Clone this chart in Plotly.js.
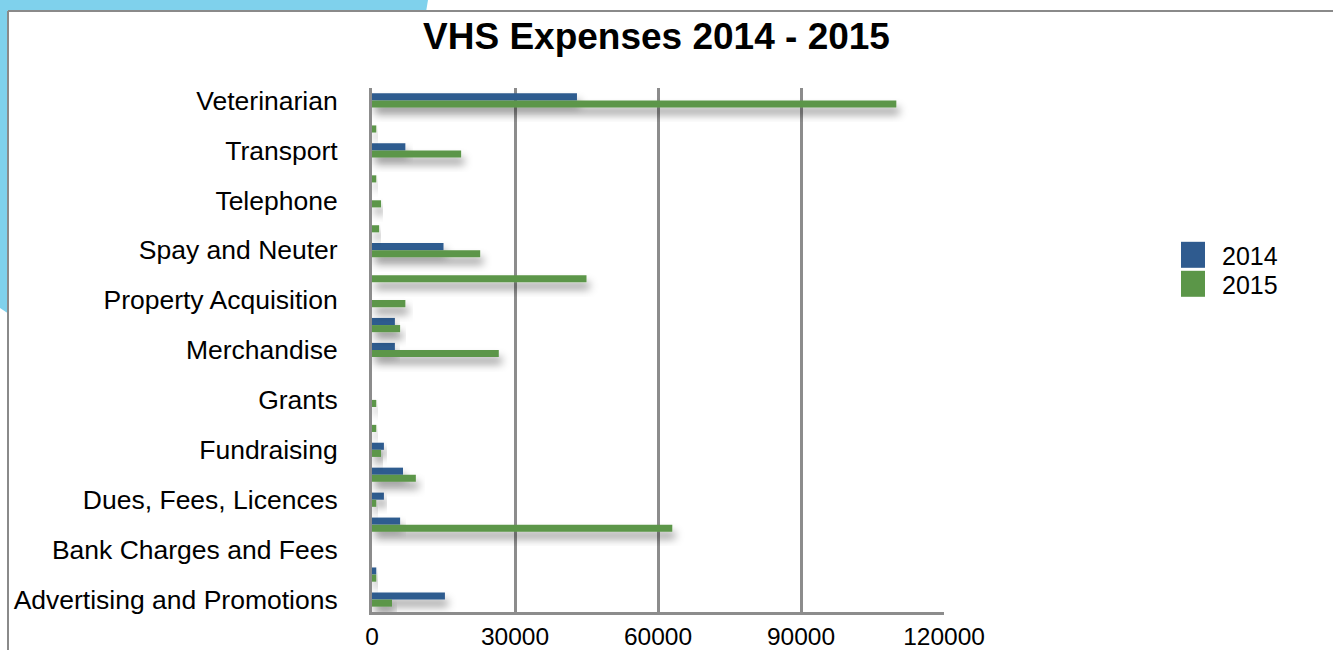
<!DOCTYPE html>
<html>
<head>
<meta charset="utf-8">
<script src="https://cdn.plot.ly/plotly-3.0.1.min.js"></script>
<style>
  html, body { margin: 0; padding: 0; background: #ffffff; }
  #wrap { position: relative; width: 1333px; height: 650px; overflow: hidden; }
  #bg { position: absolute; left: 0; top: 0; }
  #chart { position: absolute; left: 0; top: 0; width: 1333px; height: 650px; }
</style>
</head>
<body>
<div id="wrap">
  <svg id="bg" width="1333" height="650">
    <polygon points="0,0 428,0 426,12 9,12 9,314 0,308" fill="#7fd1ec"/>
    <rect x="9" y="12" width="1324" height="638" fill="#ffffff"/>
    <line x1="8" y1="11" x2="1333" y2="11" stroke="#8a8a8a" stroke-width="2"/>
    <line x1="8" y1="11" x2="8" y2="650" stroke="#8a8a8a" stroke-width="2"/>
  </svg>
  <div id="chart"></div>
</div>
<script>
// Rows from top to bottom; empty strings are rows without a printed label
const categories = [
  "Veterinarian", "", "Transport", "", "Telephone", "", "Spay and Neuter", "",
  "Property Acquisition", "", "Merchandise", "", "Grants", "", "Fundraising", "",
  "Dues, Fees, Licences", "", "Bank Charges and Fees", "", "Advertising and Promotions"
];
const seriesNames = ["2014", "2015"];
const values2014 = [43000, null, 7000, null, null, null, 15000, null, null, 4800, 4800, null,
  null, null, 2500, 6500, 2500, 5900, null, 900, 15300];
const values2015 = [110000, 900, 18700, 900, 1900, 1500, 22700, 45000, 7000, 5900, 26600, null,
  900, 900, 1900, 9200, 900, 63000, null, 900, 4200];
const xTicks = [0, 30000, 60000, 90000, 120000];

const rowPos = categories.map((_, i) => i);
const colors = ["#2f5b8f", "#5b9648"];

const traces = [values2014, values2015].map((vals, k) => ({
  type: "bar",
  orientation: "h",
  name: seriesNames[k],
  x: vals,
  y: rowPos,
  marker: { color: colors[k], line: { width: 0 } },
  hoverinfo: "x+name"
}));

const layout = {
  width: 1333, height: 650,
  paper_bgcolor: "rgba(0,0,0,0)",
  plot_bgcolor: "rgba(0,0,0,0)",
  margin: { l: 372, r: 389, t: 88, b: 38 },
  barmode: "group",
  bargap: 0.43,
  bargroupgap: 0,
  title: {
    text: "<b>VHS Expenses 2014 - 2015</b>",
    font: { family: "Liberation Sans, Arial, sans-serif", size: 37, color: "#000000" },
    xref: "container", yref: "container",
    x: 0.4925, xanchor: "center",
    y: 0.945, yanchor: "middle"
  },
  xaxis: {
    range: [0, 120000],
    tickvals: xTicks,
    ticktext: xTicks.map(String),
    showgrid: true, gridcolor: "#8c8c8c", gridwidth: 3,
    showline: true, linecolor: "#8c8c8c", linewidth: 3,
    zeroline: false,
    ticks: "",
    ticklabelstandoff: 1,
    tickfont: { family: "Liberation Sans, Arial, sans-serif", size: 24.5, color: "#000000" },
    automargin: false,
    fixedrange: true
  },
  yaxis: {
    range: [20.5, -0.5],
    tickvals: rowPos,
    ticktext: categories,
    showgrid: false,
    showline: true, linecolor: "#8c8c8c", linewidth: 3,
    zeroline: false,
    ticks: "",
    ticklabelstandoff: 26,
    tickfont: { family: "Liberation Sans, Arial, sans-serif", size: 26.5, color: "#000000" },
    automargin: false,
    fixedrange: true
  },
  showlegend: true,
  legend: {
    xref: "container", yref: "container",
    x: 0.8732, xanchor: "left",
    y: 0.643, yanchor: "top",
    bgcolor: "rgba(0,0,0,0)",
    font: { family: "Liberation Sans, Arial, sans-serif", size: 25, color: "#000000" },
    tracegroupgap: 0,
    itemwidth: 48
  }
};

Plotly.newPlot("chart", traces, layout, { displayModeBar: false, staticPlot: true }).then(gd => {
  const svg = gd.querySelector(".main-svg");
  const ns = "http://www.w3.org/2000/svg";
  let defs = svg.querySelector("defs");
  if (!defs) { defs = document.createElementNS(ns, "defs"); svg.insertBefore(defs, svg.firstChild); }
  const f = document.createElementNS(ns, "filter");
  f.setAttribute("id", "barShadow");
  f.setAttribute("x", "-10%"); f.setAttribute("y", "-100%");
  f.setAttribute("width", "130%"); f.setAttribute("height", "400%");
  const ds = document.createElementNS(ns, "feDropShadow");
  ds.setAttribute("dx", "3"); ds.setAttribute("dy", "7");
  ds.setAttribute("stdDeviation", "4");
  ds.setAttribute("flood-color", "#000000");
  ds.setAttribute("flood-opacity", "0.4");
  f.appendChild(ds);
  defs.appendChild(f);
  gd.querySelectorAll(".barlayer .point path").forEach(p => p.setAttribute("filter", "url(#barShadow)"));
  // enlarge legend swatches and tighten row spacing
  gd.querySelectorAll(".legend .legendpoints path").forEach(p => {
    p.setAttribute("d", "M12,13H-12V-13H12Z");
    p.style.strokeWidth = "0";
  });
  const items = gd.querySelectorAll(".legend .traces");
  if (items.length) {
    const m = /translate\(\s*([-\d.]+)[ ,]+([-\d.]+)\s*\)/.exec(items[0].getAttribute("transform") || "");
    if (m) {
      const x0 = parseFloat(m[1]), y0 = parseFloat(m[2]);
      items.forEach((it, i) => it.setAttribute("transform", "translate(" + x0 + "," + (y0 + i * 29) + ")"));
    }
  }
});
</script>
</body>
</html>
